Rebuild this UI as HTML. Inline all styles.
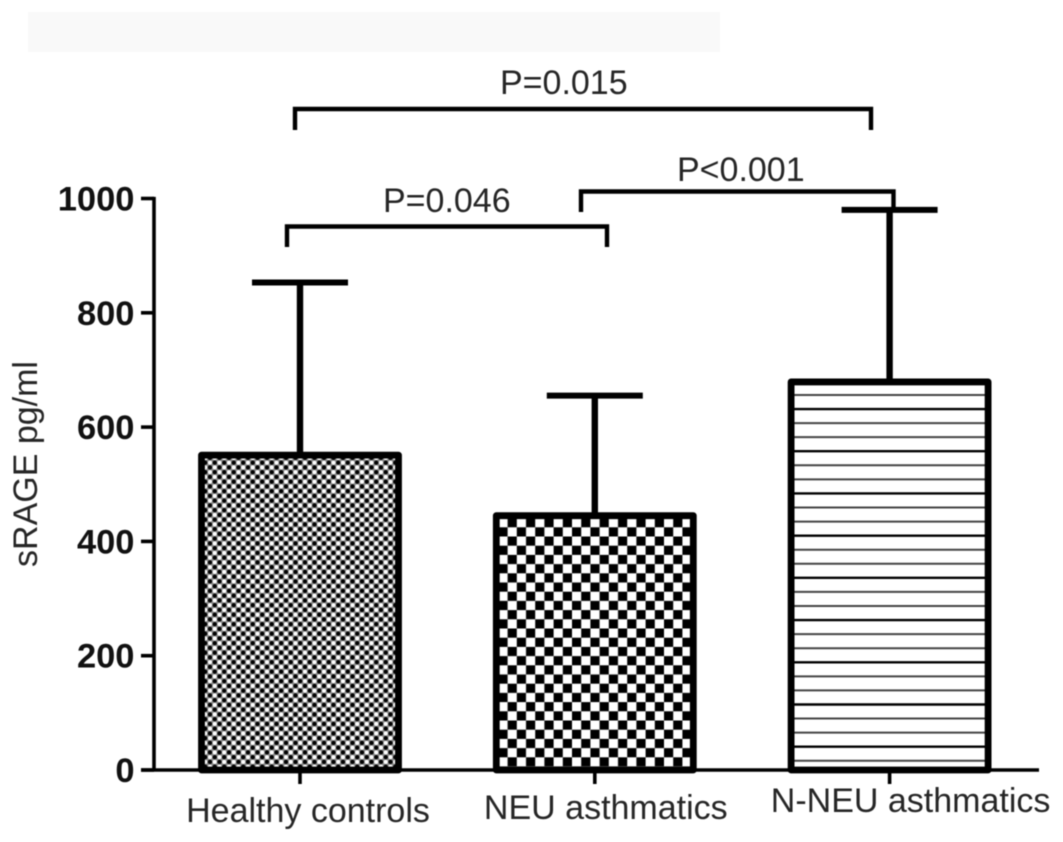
<!DOCTYPE html>
<html>
<head>
<meta charset="utf-8">
<title>sRAGE bar chart</title>
<style>
  html, body { margin: 0; padding: 0; background: #fff; }
  body { width: 1063px; height: 842px; overflow: hidden; }
  svg { display: block; filter: blur(0.65px); font-family: "Liberation Sans", sans-serif; }
</style>
</head>
<body>
<svg id="chart" width="1063" height="842" viewBox="0 0 1063 842" xmlns="http://www.w3.org/2000/svg">
  <defs>
    <pattern id="fine-dots" patternUnits="userSpaceOnUse" x="207.6" y="460.3" width="9.5" height="9.5">
      <rect width="9.5" height="9.5" fill="#8a8a8a"/>
      <circle cx="2.375" cy="2.375" r="2.1" fill="#fff"/>
      <circle cx="7.125" cy="7.125" r="2.1" fill="#fff"/>
      <circle cx="7.125" cy="2.375" r="2.2" fill="#000"/>
      <circle cx="2.375" cy="7.125" r="2.2" fill="#000"/>
    </pattern>
    <pattern id="coarse-check" patternUnits="userSpaceOnUse" x="498.4" y="518.1" width="18.4" height="18.4">
      <rect width="18.4" height="18.4" fill="#000"/>
      <rect x="0" y="0" width="9.2" height="9.2" fill="#fff"/>
      <rect x="9.2" y="9.2" width="9.2" height="9.2" fill="#fff"/>
    </pattern>
  </defs>

  <rect x="0" y="0" width="1063" height="842" fill="#fff"/>
  <rect x="28" y="12" width="692" height="40" fill="#f9f9f9"/>

  <g id="plot"></g>

  <g fill="none" stroke="#000" stroke-width="4.4" stroke-linejoin="miter">
    <path d="M295 130 V109 H871 V130"/>
    <path d="M287 247 V226.5 H607 V247"/>
    <path d="M581 212 V191.5 H893.5 V212"/>
  </g>
  <g font-size="34" fill="#262626">
    <text x="500" y="94">P=0.015</text>
    <text x="383" y="212">P=0.046</text>
    <text x="677" y="181">P&lt;0.001</text>
  </g>

  <text transform="translate(37,464) rotate(-90)" text-anchor="middle" font-size="34" fill="#262626">sRAGE pg/ml</text>
</svg>

<script>
const categories = ["Healthy controls", "NEU asthmatics", "N-NEU asthmatics"];
const means = [551, 445, 679];
const errorTops = [853, 655, 980];
const yTicks = [0, 200, 400, 600, 800, 1000];
const fills = ["url(#fine-dots)", "url(#coarse-check)", "#fff"];

const NS = "http://www.w3.org/2000/svg";
const plot = document.getElementById("plot");

function yScale(v) { return 770 - v * 0.5715; }
function xScale(i) { return 300 + i * 294.8; }

function add(tag, attrs, parent) {
  const el = document.createElementNS(NS, tag);
  for (const k in attrs) el.setAttribute(k, attrs[k]);
  (parent || plot).appendChild(el);
  return el;
}

const BAR_W = 197, CAP_W = 96;
const labelBaselines = [822, 819, 812];
const labelOffsets = [8, 11, 21];

categories.forEach(function (name, i) {
  const cx = xScale(i);
  const top = yScale(means[i]);
  const errTop = yScale(errorTops[i]);

  const stem = add("line", { x1: cx, x2: cx, y1: errTop, y2: top, stroke: "#000", "stroke-width": 6.4 });
  
  

  const cap = add("line", { x1: cx - CAP_W / 2, x2: cx + CAP_W / 2, y1: errTop, y2: errTop, stroke: "#000", "stroke-width": 6 });
  
  

  const fillRect = add("rect", { x: cx - BAR_W / 2, y: top, width: BAR_W, height: 770 - top, fill: fills[i] });
  
  

  if (i === 2) {
    let k = 0;
    for (let y = top + 13; y < 768; y += 14.07) {
      const dark = k % 3 === 1;
      const hatch = add("line", { x1: cx - BAR_W / 2, x2: cx + BAR_W / 2, y1: y, y2: y, stroke: dark ? "#000" : "#444", "stroke-width": dark ? 2.4 : 2 });
      
      
      k++;
    }
  }

  const outline = add("rect", { x: cx - BAR_W / 2, y: top, width: BAR_W, height: 770 - top, fill: "none", stroke: "#000", "stroke-width": 6.8, "stroke-linejoin": "round" });
  
  

  const tick = add("line", { x1: cx, x2: cx, y1: 770, y2: 784, stroke: "#000", "stroke-width": 3.6 });
  
  

  const label = add("text", { x: cx + labelOffsets[i], y: labelBaselines[i], "text-anchor": "middle", "font-size": 34, fill: "#262626" });
  
  
  label.textContent = name;
});

const yAxis = add("line", { x1: 154, x2: 154, y1: yScale(1000) - 1.6, y2: 771.5, stroke: "#000", "stroke-width": 3.6 });



const xAxis = add("line", { x1: 141, x2: 1039, y1: 770, y2: 770, stroke: "#000", "stroke-width": 3.6 });



yTicks.forEach(function (v) {
  const y = yScale(v);
  const t = add("line", { x1: 141, x2: 154, y1: y, y2: y, stroke: "#000", "stroke-width": 3.6 });
  
  

  const lab = add("text", { x: 134.5, y: y + 12, "text-anchor": "end", "font-size": 34.5, "font-weight": "bold", fill: "#111" });
  
  
  lab.textContent = v;
});
</script>
</body>
</html>
